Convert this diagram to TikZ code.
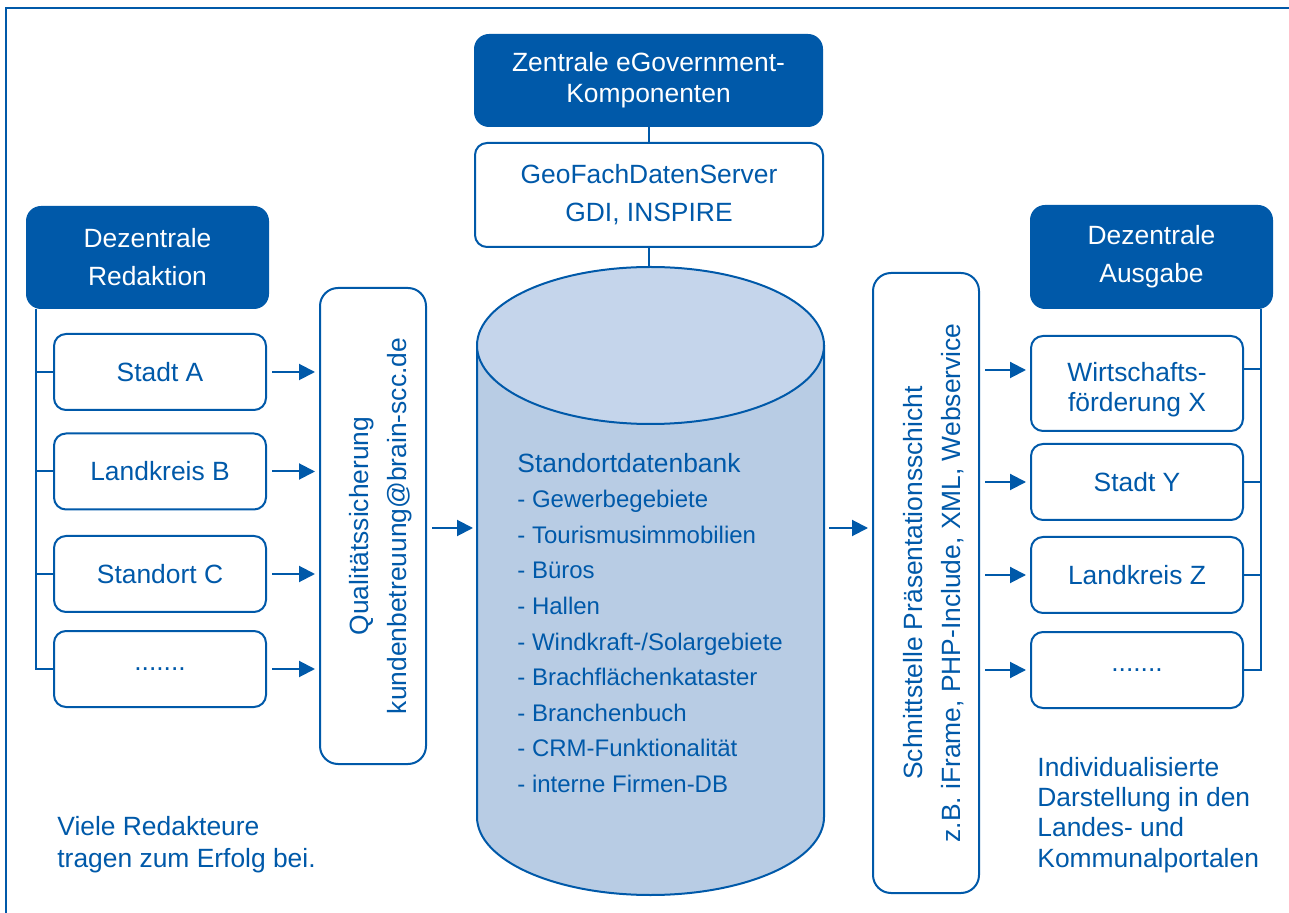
\documentclass[tikz,border=0pt]{standalone}
\usepackage{fontspec}
\setmainfont{Liberation Sans}
\usetikzlibrary{arrows.meta, positioning}
\definecolor{brainblue}{RGB}{0,89,169}
\definecolor{dbtopfill}{RGB}{197,213,235}
\definecolor{dbbodyfill}{RGB}{184,204,228}

\begin{document}
\begin{tikzpicture}[x=0.5pt, y=-0.5pt,
    every node/.style={font=\fontsize{13.2}{19}\selectfont, text=brainblue, inner sep=1pt},
    head/.style={fill=brainblue, text=white, rounded corners=7.5pt, align=center},
    item/.style={draw=brainblue, line width=1pt, fill=white, rounded corners=6pt, align=center, minimum width=106pt, minimum height=38pt},
    vbox/.style={draw=brainblue, line width=1pt, fill=white, rounded corners=9pt, rotate=90, minimum height=53pt},
    vtext/.style={rotate=90, align=center},
    arr/.style={-{Triangle[length=8pt,width=8pt]}, line width=1pt, draw=brainblue, shorten <=2.5pt, shorten >=2pt},
    tree/.style={line width=1pt, draw=brainblue}]

            \useasboundingbox (0,0) rectangle (1289,913);
            \draw[brainblue, line width=1.2pt] (6,940) -- (6,8) -- (1310,8);

            % database
            \draw[tree, fill=dbbodyfill] (477,345.5) -- (477,817) arc[start angle=180, end angle=360, x radius=86.75pt, y radius=39pt] -- (824,345.5);
            \draw[tree, fill=dbtopfill] (650.5,345.5) ellipse[x radius=86.75pt, y radius=39.25pt];
            \coordinate (dbtop) at (650.5,267);
            \coordinate (dbw) at (477,528);
            \coordinate (dbe) at (824,528);

            \node[anchor=base west] (dbt) at (515,473) {Standortdatenbank};
            \foreach \t [count=\i] in {Gewerbegebiete, Tourismusimmobilien, Büros, Hallen, Windkraft-/Solargebiete, Brachflächenkataster, Branchenbuch, CRM-Funktionalität, interne Firmen-DB} {
                \node[anchor=base west, font=\fontsize{12}{14}\selectfont] (db\i) at (515,{472+\i*35.6}) {- \t};
            }

            % central components
            \node[head, minimum width=174.5pt, minimum height=46.5pt, font=\fontsize{13.2}{15.5}\selectfont] (zk) at (648.5,80.5) {Zentrale eGovernment-\\Komponenten};
            \node[item, minimum width=174pt, minimum height=52pt] (gf) at (649,195) {GeoFachDatenServer\\GDI, INSPIRE};
            \draw[tree] (zk.south) -- (zk.south |- gf.north);
            \draw[tree] (gf.south) -- (gf.south |- dbtop);

            % left side
            \node[head, minimum width=121.5pt, minimum height=51.5pt] (lh) at (147.5,257.5) {Dezentrale\\Redaktion};
            \node[item] (sa) at (160,372) {Stadt A};
            \node[item] (lb) at (160,471.5) {Landkreis B};
            \node[item] (sc) at (160,574) {Standort C};
            \node[item] (ld) at (160,669) {.......};
            \coordinate (lroot) at (36,309);
            \node[vbox, minimum width=238pt] (qs) at (373,526) {};
            \node[vtext] (qst) at (381,526) {Qualitätssicherung\\kundenbetreuung@brain-scc.de};

            % qs is rotated: qs.north is its left side, qs.south its right side
            \foreach \b in {sa,lb,sc,ld} {
                \draw[tree] (lroot) |- (\b.west);
                \draw[arr] (\b.east) -- (\b.east -| qs.north);
            }
            \draw[arr] (qs.south |- dbw) -- (dbw);

            % right side
            \node[head, minimum width=121.5pt, minimum height=52pt] (rh) at (1151.5,257) {Dezentrale\\Ausgabe};
            \node[item, minimum height=47.5pt] (wf) at (1137,383.5) {};
            \node[align=center, font=\fontsize{13.2}{15}\selectfont] (wft) at (1137,390) {Wirtschafts-\\förderung X};
            \node[item] (sy) at (1137,482) {Stadt Y};
            \node[item] (lz) at (1137,575) {Landkreis Z};
            \node[item] (rd) at (1137,670) {.......};
            \coordinate (rroot) at (1261,309);
            \coordinate (wfw) at ([yshift=6.75pt]wf.west);
            \coordinate (wfe) at ([yshift=7pt]wf.east);
            \node[vbox, minimum width=310pt] (si) at (926,583) {};
            \node[vtext] (sit) at (934,583) {Schnittstelle Präsentationsschicht\\z.B. iFrame, PHP-Include, XML, Webservice};

            \draw[arr] (dbe) -- (dbe -| si.north);
            \draw[tree] (rroot) |- (wfe);
            \draw[arr] (si.south |- wfw) -- (wfw);
            \foreach \b in {sy,lz,rd} {
                \draw[tree] (rroot) |- (\b.east);
                \draw[arr] (si.south |- \b.west) -- (\b.west);
            }

            \node[anchor=north west, align=left, font=\fontsize{13.2}{16}\selectfont] (nl) at (55,814) {Viele Redakteure\\tragen zum Erfolg bei.};
            \node[anchor=north west, align=left, font=\fontsize{13.2}{15.2}\selectfont] (nr) at (1035,754.5) {Individualisierte\\Darstellung in den\\Landes- und\\Kommunalportalen};
        \end{tikzpicture}
\end{document}
